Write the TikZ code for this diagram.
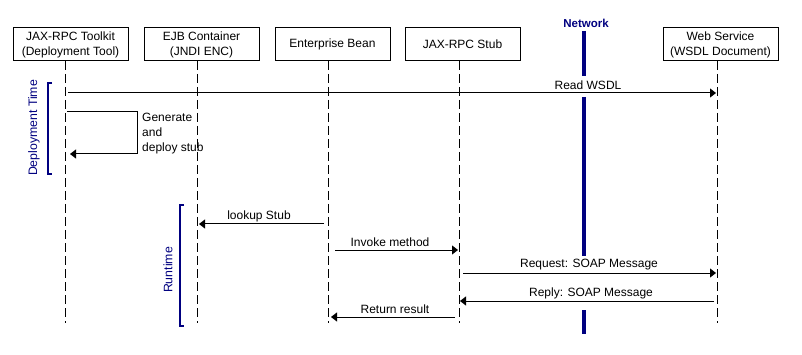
\documentclass[tikz,border=0pt]{standalone}
\usepackage{fontspec}
\setmainfont{Liberation Sans}
\usetikzlibrary{arrows.meta,calc}
\definecolor{navy}{RGB}{0,0,128}
\begin{document}
\begin{tikzpicture}[x=1pt,y=-1pt,
  actor/.style={draw=black,line width=1pt,minimum width=115pt,minimum height=33pt,inner sep=0pt,align=center,font=\fontsize{12}{15}\selectfont,fill=white},
  lifeline/.style={line width=1pt,dash pattern=on 9pt off 4pt},
  msg/.style={line width=1pt,-{Triangle[length=6pt,width=9pt]}},
  lbl/.style={font=\fontsize{12}{14}\selectfont,inner sep=1pt},
  brk/.style={navy,line width=2pt},
  net/.style={navy,line width=4.5pt},
  phase/.style={navy,font=\fontsize{12.3}{14}\selectfont,rotate=90}]
\useasboundingbox (0,0) rectangle (802,355);
\fill[white] (0,0) rectangle (802,355);
% actors
\node[actor] (a1) at (70.5,44.5) {JAX-RPC Toolkit\\(Deployment Tool)};
\node[actor] (a2) at (201.5,44.5) {EJB Container\\(JNDI ENC)};
\node[actor] (a3) at (332.5,44.5) {Enterprise Bean};
\node[actor] (a4) at (462.5,44.5) {JAX-RPC Stub};
\node[actor] (a5) at (720.5,44.5) {Web Service\\(WSDL Document)};
% lifeline ends
\coordinate (t1) at (65,61);  \coordinate (b1) at (65,323);
\coordinate (t2) at (197,61); \coordinate (b2) at (197,323);
\coordinate (t3) at (328,61); \coordinate (b3) at (328,323);
\coordinate (t4) at (459,61); \coordinate (b4) at (459,323);
\coordinate (t5) at (717,61); \coordinate (b5) at (717,323);
\foreach \i in {1,...,5} \draw[lifeline] (t\i) -- (b\i);
% network
\node[navy,font=\fontsize{11.5}{14}\selectfont\bfseries,inner sep=0pt] (netlbl) at (586,23) {Network};
\coordinate (n1) at (584,31); \coordinate (n2) at (584,76);
\coordinate (n3) at (584,97); \coordinate (n4) at (584,256);
\coordinate (n5) at (584,310); \coordinate (n6) at (584,334);
\draw[net] (n1) -- (n2);
\draw[net] (n3) -- (n4);
\draw[net] (n5) -- (n6);
% brackets
\coordinate (d1) at (48,83); \coordinate (d2) at (48,174);
\draw[brk] ($(d1)+(4,0)$) -- (d1) -- (d2) -- ++(4,0);
\node[phase] (dlbl) at (34,128) {Deployment Time};
\coordinate (r1) at (180,205); \coordinate (r2) at (180,326);
\draw[brk] ($(r1)+(4,0)$) -- (r1) -- (r2) -- ++(4,0);
\node[phase] (rlbl) at (168,270) {Runtime};
% messages
\coordinate (m1s) at (68,93); \coordinate (m1e) at (716,93);
\draw[msg] (m1s) -- (m1e);
\node[lbl] (m1l) at (588,85) {Read WSDL};
\coordinate (m2s) at (67,112); \coordinate (m2a) at (137,112);
\coordinate (m2b) at (137,154); \coordinate (m2e) at (70,154);
\draw[msg] (m2s) -- (m2a) -- (m2b) -- (m2e);
\node[lbl,anchor=north west,align=left,font=\fontsize{12}{15}\selectfont] (m2l) at (141,112) {Generate\\and\\deploy stub};
\coordinate (m3s) at (324,224); \coordinate (m3e) at (199,224);
\draw[msg] (m3s) -- (m3e);
\node[lbl] (m3l) at (259,216) {lookup Stub};
\coordinate (m4s) at (335,250); \coordinate (m4e) at (458,250);
\draw[msg] (m4s) -- (m4e);
\node[lbl] (m4l) at (390,242) {Invoke method};
\coordinate (m5s) at (463,273); \coordinate (m5e) at (716,273);
\draw[msg] (m5s) -- (m5e);
\node[lbl] (m5l) at (589,265) {Request: SOAP Message};
\coordinate (m6s) at (714,301); \coordinate (m6e) at (460,301);
\draw[msg] (m6s) -- (m6e);
\node[lbl] (m6l) at (591,293) {Reply: SOAP Message};
\coordinate (m7s) at (455,317); \coordinate (m7e) at (331,317);
\draw[msg] (m7s) -- (m7e);
\node[lbl] (m7l) at (395,309) {Return result};
\end{tikzpicture}
\end{document}
